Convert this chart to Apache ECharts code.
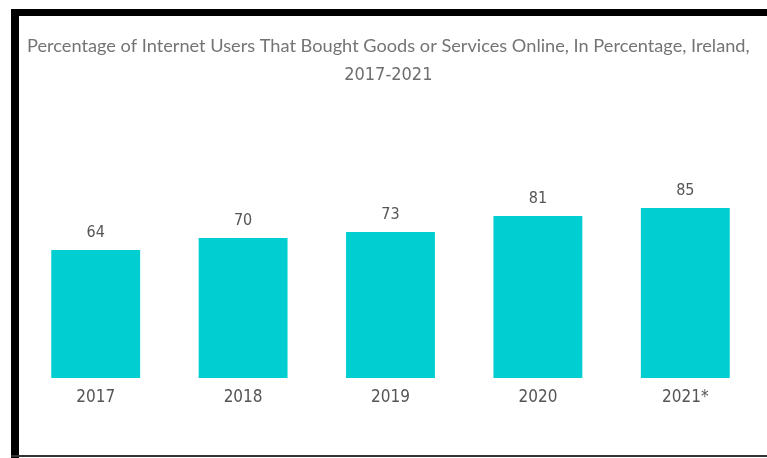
<!DOCTYPE html>
<html>
<head>
<meta charset="utf-8">
<script src="https://cdn.jsdelivr.net/npm/echarts@6/dist/echarts.min.js"></script>
<style>
  html, body { margin: 0; padding: 0; background: #fff; }
  #chart { width: 767px; height: 458px; }
</style>
</head>
<body>
<div id="chart"></div>
<script>
// Online shoppers among internet users, Ireland
const years = ['2017', '2018', '2019', '2020', '2021*'];
const shares = [64, 70, 73, 81, 85];
const titleLine1 = 'Percentage of Internet Users That Bought Goods or Services Online, In Percentage, Ireland,';
const titleLine2 = '2017-2021';

const narrow = '"DejaVu Sans Condensed", "Roboto", sans-serif';

const chart = echarts.init(document.getElementById('chart'), null, { renderer: 'canvas' });
chart.setOption({
  backgroundColor: '#ffffff',
  animation: false,
  title: {
    text: '{a|' + titleLine1 + '}\n{b|' + titleLine2 + '}',
    left: 22,
    top: 27,
    textStyle: {
      fontWeight: 'normal',
      rich: {
        a: { fontFamily: 'Lato', fontWeight: 'normal', fontSize: 18.2, color: '#747474', lineHeight: 29, align: 'center' },
        b: { fontFamily: narrow, fontWeight: 'normal', fontSize: 18, color: '#6e6e6e', lineHeight: 29, align: 'center' }
      }
    }
  },
  grid: { left: 22, right: 8, top: 178, bottom: 80 },
  xAxis: {
    type: 'category',
    data: years,
    axisLine: { show: false },
    axisTick: { show: false },
    axisLabel: { fontFamily: narrow, fontSize: 17, color: '#555555', margin: 11 }
  },
  yAxis: {
    type: 'value',
    min: 0,
    max: 100,
    show: false,
    splitLine: { show: false }
  },
  series: [{
    type: 'bar',
    data: shares,
    barCategoryGap: '39.7%',
    itemStyle: { color: '#00ced1' },
    label: {
      show: true,
      position: 'top',
      distance: 9,
      fontFamily: narrow,
      fontSize: 16,
      color: '#555555'
    }
  }],
  graphic: [
    { type: 'rect', shape: { x: 11, y: 9, width: 756, height: 7 }, style: { fill: '#000' } },
    { type: 'rect', shape: { x: 11, y: 9, width: 8, height: 449 }, style: { fill: '#000' } },
    { type: 'rect', shape: { x: 11, y: 455, width: 756, height: 2 }, style: { fill: '#333' } }
  ]
});
</script>
</body>
</html>
